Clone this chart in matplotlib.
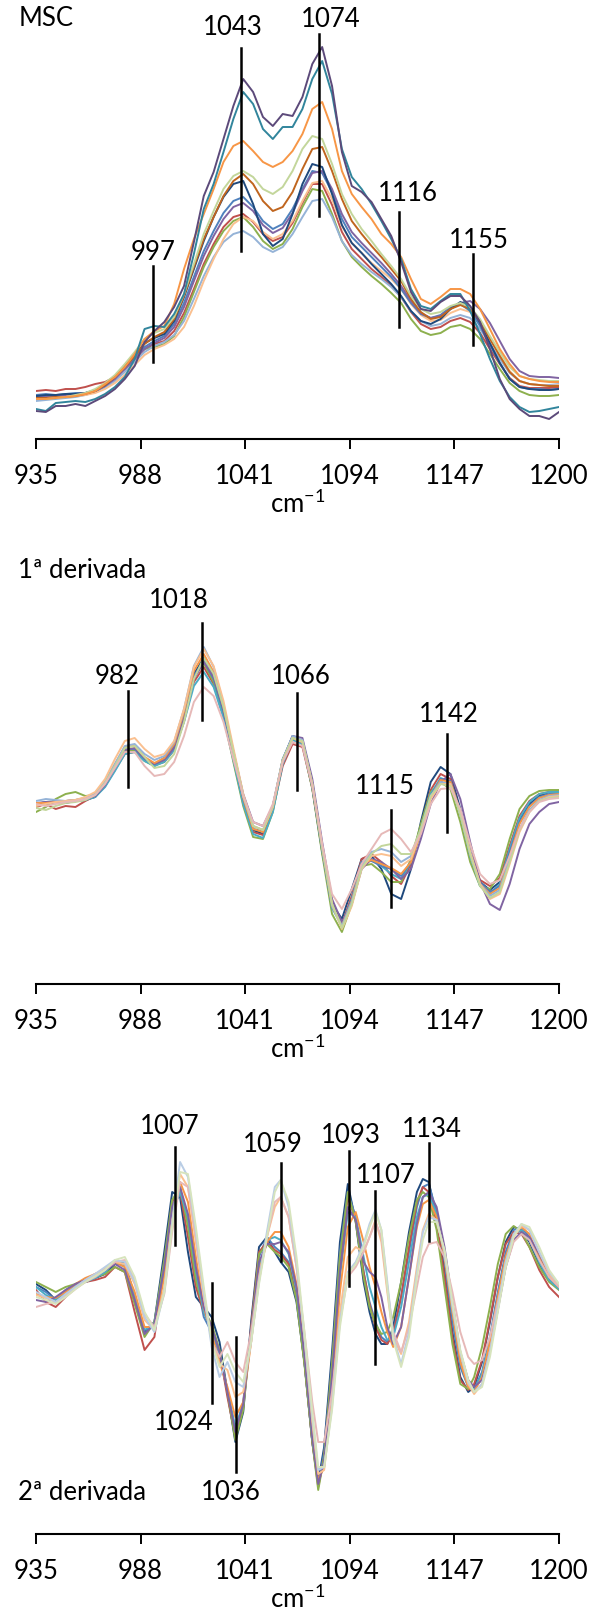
import numpy as np
import matplotlib
matplotlib.use("Agg")
import matplotlib.pyplot as plt

plt.rcParams['font.family'] = ['Lato', 'DejaVu Sans']
plt.rcParams['mathtext.fontset'] = 'custom'
plt.rcParams['mathtext.rm'] = 'Lato'
plt.rcParams['mathtext.default'] = 'regular'

# ---- data (arbitrary units) ----
# MSC spectra, 935-1200 cm-1 every 5 cm-1
wn_5 = np.arange(935, 1201, 5)

msc_dark_purple = [28, 27, 33, 33, 35, 33, 38, 43, 50, 60, 73, 97, 108, 117, 132, 153, 197, 243, 267, 300,
                   333, 360, 347, 322, 313, 325, 323, 342, 375, 392, 353, 287, 253, 247, 237, 220, 203, 177, 147, 130,
                   128, 137, 143, 143, 133, 117, 90, 60, 40, 30, 23, 23, 20, 27]
msc_teal = [30, 28, 36, 37, 38, 37, 40, 45, 52, 62, 80, 110, 113, 112, 125, 145, 185, 230, 255, 287,
            320, 347, 335, 310, 300, 312, 312, 330, 360, 378, 345, 290, 262, 250, 235, 218, 200, 180, 150, 133,
            130, 138, 145, 145, 128, 105, 80, 58, 42, 32, 27, 28, 30, 32]
msc_orange = [40, 40, 41, 42, 43, 45, 48, 55, 62, 72, 85, 100, 108, 113, 135, 170, 200, 225, 250, 277,
              293, 298, 288, 277, 272, 277, 288, 305, 330, 337, 310, 268, 245, 232, 220, 205, 195, 182, 160, 140,
              135, 142, 150, 150, 145, 130, 110, 90, 75, 63, 60, 58, 57, 57]
msc_brown = [41, 41, 42, 42, 43, 45, 48, 54, 62, 72, 83, 95, 102, 107, 120, 143, 172, 200, 222, 243,
             258, 265, 255, 238, 228, 232, 247, 270, 290, 292, 268, 240, 218, 205, 193, 182, 170, 158, 140, 127,
             120, 122, 130, 134, 130, 118, 100, 83, 67, 58, 55, 54, 53, 53]
msc_blue = [44, 45, 44, 45, 46, 46, 48, 53, 61, 72, 82, 92, 98, 103, 115, 136, 162, 188, 208, 226,
            238, 242, 232, 218, 210, 215, 230, 250, 268, 266, 247, 220, 202, 192, 182, 172, 162, 150, 136, 125,
            121, 124, 132, 135, 128, 113, 94, 76, 60, 52, 50, 50, 49, 50]
msc_green = [40, 41, 42, 42, 43, 45, 48, 53, 62, 73, 83, 90, 92, 95, 103, 122, 147, 172, 192, 208,
             218, 222, 212, 198, 190, 195, 210, 232, 250, 248, 225, 198, 182, 172, 163, 155, 146, 136, 120, 108,
             104, 106, 112, 114, 110, 100, 85, 70, 56, 48, 44, 43, 43, 44]
msc_light_blue = [38, 39, 40, 41, 42, 44, 47, 51, 58, 67, 77, 87, 93, 97, 104, 118, 140, 163, 182, 197,
                  205, 208, 202, 192, 187, 192, 205, 222, 238, 240, 222, 198, 184, 175, 167, 160, 152, 142, 128, 118,
                  113, 115, 121, 124, 121, 110, 95, 80, 66, 58, 55, 54, 54, 55]
msc_light_green = [40, 40, 41, 42, 44, 46, 50, 56, 64, 75, 87, 100, 106, 110, 122, 145, 175, 205, 228, 250,
                   263, 268, 262, 250, 245, 252, 268, 290, 303, 300, 275, 245, 225, 210, 198, 185, 173, 160, 143, 130,
                   125, 127, 133, 136, 132, 120, 103, 87, 72, 63, 60, 59, 58, 58]
msc_red = [48, 49, 48, 50, 50, 52, 55, 57, 62, 70, 80, 90, 95, 98, 108, 126, 150, 175, 195, 212,
           222, 225, 217, 205, 198, 202, 216, 236, 255, 255, 234, 207, 190, 180, 170, 162, 153, 142, 127, 115,
           110, 112, 118, 121, 117, 106, 90, 75, 61, 53, 51, 51, 51, 52]
msc_peach = [40, 41, 42, 42, 43, 44, 46, 50, 56, 64, 74, 84, 90, 94, 100, 112, 133, 158, 180, 200,
             215, 222, 218, 207, 200, 205, 218, 238, 256, 258, 240, 213, 196, 186, 176, 168, 160, 150, 135, 124,
             118, 119, 126, 130, 127, 117, 101, 84, 68, 58, 55, 54, 53, 54]
msc_violet = [42, 42, 43, 44, 45, 46, 48, 53, 60, 70, 80, 90, 96, 101, 112, 132, 158, 183, 203, 220,
              232, 236, 228, 214, 206, 211, 226, 248, 266, 268, 250, 225, 207, 196, 186, 176, 165, 153, 138, 126,
              121, 123, 130, 136, 138, 130, 116, 98, 80, 68, 63, 62, 62, 61]
msc_dark_blue = [43, 44, 44, 45, 45, 46, 49, 54, 62, 72, 84, 96, 101, 105, 118, 142, 170, 198, 222, 242,
                 255, 258, 235, 205, 193, 200, 225, 255, 275, 272, 245, 214, 196, 186, 175, 165, 155, 143, 128, 118,
                 115, 120, 130, 137, 132, 116, 96, 76, 60, 52, 50, 49, 49, 50]

# 1st derivative, same wavenumbers
d1_dark_blue = [-2, 0, 2, 1, 3, 4, 7, 18, 35, 52, 53, 44, 40, 46, 60, 90, 130, 146, 128, 94,
                50, 6, -26, -30, -5, 44, 68, 62, 16, -48, -100, -115, -85, -55, -52, -65, -90, -95, -65, -18,
                22, 37, 30, -5, -48, -78, -86, -78, -45, -15, 0, 8, 12, 13]
d1_red = [-3, 0, -5, -2, -3, 3, 8, 18, 34, 50, 52, 44, 39, 42, 54, 83, 122, 137, 120, 88,
          45, 2, -28, -31, -6, 38, 60, 57, 16, -46, -102, -120, -92, -55, -50, -58, -72, -80, -60, -22,
          14, 30, 25, -8, -50, -76, -82, -74, -42, -12, 3, 10, 12, 12]
d1_green = [-8, -3, 5, 10, 12, 8, 9, 20, 37, 53, 53, 43, 38, 43, 57, 88, 127, 141, 122, 88,
            42, -2, -33, -35, -8, 42, 65, 60, 15, -50, -110, -128, -100, -62, -60, -68, -78, -78, -55, -20,
            12, 22, 15, -18, -58, -82, -85, -70, -35, -5, 8, 13, 14, 14]
d1_teal = [0, 2, 2, 3, 3, 4, 7, 17, 33, 50, 52, 43, 38, 42, 54, 82, 118, 132, 117, 86,
           44, 0, -30, -34, -8, 40, 64, 60, 17, -46, -104, -122, -95, -58, -55, -62, -70, -75, -58, -25,
           10, 26, 22, -10, -52, -82, -90, -80, -45, -14, 2, 10, 12, 12]
d1_blue = [0, 2, 3, 2, 3, 5, 8, 20, 38, 55, 55, 45, 40, 45, 58, 88, 128, 143, 125, 92,
           48, 5, -25, -27, -2, 45, 67, 62, 18, -45, -102, -120, -95, -58, -57, -62, -65, -72, -58, -28,
           8, 25, 23, -8, -48, -78, -88, -82, -48, -18, -2, 7, 10, 10]
d1_violet = [1, 2, 2, 3, 4, 5, 8, 19, 36, 54, 56, 46, 40, 44, 56, 85, 125, 142, 127, 95,
             53, 10, -18, -22, -2, 42, 68, 66, 25, -38, -95, -118, -100, -65, -55, -58, -65, -75, -65, -35,
             0, 22, 30, 5, -38, -78, -100, -106, -80, -45, -20, -8, 0, 2]
d1_orange = [1, 1, 2, 3, 4, 6, 10, 22, 40, 57, 58, 47, 41, 46, 60, 92, 133, 150, 132, 97,
             52, 6, -25, -28, -3, 44, 66, 62, 19, -44, -102, -122, -97, -60, -56, -60, -64, -70, -58, -28,
             7, 24, 22, -9, -50, -80, -90, -84, -52, -20, -3, 6, 9, 10]
d1_light_blue = [3, 5, 4, 3, 4, 6, 10, 22, 40, 58, 60, 50, 44, 48, 62, 95, 138, 157, 137, 100,
                 53, 8, -22, -26, -2, 44, 68, 64, 20, -44, -102, -122, -98, -62, -48, -45, -48, -58, -52, -25,
                 8, 22, 20, -10, -50, -80, -92, -86, -55, -25, -6, 4, 8, 9]
d1_peach = [-2, 0, 2, 3, 4, 7, 12, 25, 45, 63, 66, 55, 47, 50, 63, 95, 137, 155, 138, 103,
            56, 10, -22, -26, -3, 43, 66, 62, 20, -42, -100, -125, -102, -65, -52, -50, -52, -62, -55, -28,
            5, 20, 20, -8, -48, -80, -95, -90, -60, -28, -8, 3, 7, 8]
d1_light_green = [-4, -6, -2, 1, 2, 4, 9, 21, 38, 56, 58, 47, 36, 38, 50, 82, 125, 146, 130, 97,
                  52, 8, -22, -26, -2, 44, 66, 63, 20, -43, -100, -124, -100, -64, -50, -42, -40, -50, -50, -25,
                  8, 20, 18, -10, -50, -82, -94, -88, -58, -26, -8, 3, 6, 7]
d1_pink = [0, -2, 0, 2, 3, 5, 9, 20, 36, 52, 52, 38, 28, 30, 42, 68, 102, 117, 108, 82,
           45, 8, -18, -22, 0, 42, 62, 58, 18, -40, -90, -105, -85, -60, -45, -30, -25, -35, -48, -30,
           0, 15, 16, -5, -40, -70, -80, -76, -52, -25, -8, 2, 5, 6]

# 2nd derivative, read at these wavenumbers
wn_d2 = [935, 940, 945, 950, 955, 960, 965, 970, 975, 980, 985, 990, 995, 1000,
         1004, 1008, 1012, 1016, 1020, 1024, 1028, 1032, 1036,
         1040, 1044, 1048, 1052, 1056,
         1059, 1063, 1067, 1071, 1075, 1078, 1081, 1085, 1089, 1093,
         1097, 1101, 1104, 1107, 1110, 1113, 1116, 1120, 1124, 1128,
         1131, 1134, 1138, 1142, 1146, 1150, 1154, 1157, 1161, 1165,
         1169, 1173, 1177, 1181, 1185, 1190, 1195, 1200]

d2_dark_blue = [8, 2, -8, 0, 8, 10, 14, 18, 28, 30, -5, -40, -30, 40,
                100, 95, 40, -5, -15, -25, -50, -100, -150,
                -120, -30, 45, 55, 40,
                30, 20, -10, -70, -150, -190, -155, -60, 50, 108,
                70, 10, -20, -42, -52, -52, -35, 10, 60, 100,
                113, 110, 75, 20, -40, -85, -100, -95, -70, -30,
                15, 50, 65, 62, 50, 28, 12, 6]
d2_blue = [5, 0, -8, 2, 8, 12, 15, 20, 30, 25, -10, -42, -30, 30,
           85, 98, 70, 15, -25, -40, -62, -100, -140,
           -110, -35, 35, 55, 45,
           40, 30, -5, -70, -150, -192, -160, -70, 40, 100,
           75, 20, -10, -30, -45, -50, -40, -5, 40, 85,
           105, 108, 80, 30, -30, -75, -95, -97, -80, -45,
           0, 40, 62, 65, 55, 30, 12, 5]
d2_red = [2, -10, -15, -5, 5, 10, 12, 15, 25, 20, -20, -58, -45, 25,
          90, 100, 55, 5, -20, -35, -60, -105, -145,
          -115, -35, 40, 50, 42,
          38, 28, -5, -70, -150, -195, -165, -75, 30, 95,
          72, 20, -12, -35, -48, -52, -42, -5, 45, 90,
          105, 100, 70, 15, -45, -88, -98, -92, -68, -28,
          15, 48, 60, 58, 45, 22, 5, -5]
d2_green = [10, 5, 0, 5, 8, 12, 15, 18, 25, 20, -12, -45, -30, 32,
            92, 105, 65, 12, -18, -32, -58, -100, -148,
            -118, -40, 38, 48, 40,
            35, 25, -8, -72, -150, -198, -165, -72, 35, 100,
            70, 15, -15, -32, -42, -40, -25, 10, 55, 92,
            100, 95, 62, 5, -52, -92, -97, -85, -55, -15,
            28, 58, 66, 60, 45, 25, 10, 2]
d2_teal = [5, -3, -8, 0, 6, 10, 14, 20, 30, 28, -5, -38, -32, 22,
           80, 100, 75, 22, -20, -38, -62, -98, -135,
           -112, -45, 25, 52, 55,
           52, 38, 2, -62, -145, -190, -170, -88, 15, 80,
           75, 35, 5, -15, -35, -48, -45, -15, 30, 75,
           95, 98, 78, 35, -20, -68, -95, -98, -82, -48,
           -5, 35, 58, 62, 52, 30, 12, 3]
d2_orange = [-2, -5, -6, 0, 8, 14, 18, 22, 30, 25, 0, -35, -35, 15,
             75, 110, 90, 35, -15, -42, -70, -95, -125,
             -110, -50, 20, 50, 60,
             60, 45, 8, -58, -140, -188, -175, -98, 0, 65,
             80, 50, 25, 5, -20, -40, -55, -35, 15, 65,
             88, 92, 75, 35, -20, -70, -95, -100, -85, -50,
             -5, 35, 58, 65, 58, 35, 15, 5]
d2_purple = [-8, -10, -5, 2, 8, 12, 18, 22, 28, 22, -8, -42, -32, 25,
             85, 105, 78, 25, -15, -35, -60, -100, -140,
             -112, -40, 30, 48, 48,
             50, 40, 5, -62, -145, -192, -170, -85, 20, 85,
             72, 30, 20, 15, -5, -35, -52, -35, 15, 68,
             95, 100, 85, 45, -10, -60, -88, -95, -88, -60,
             -18, 25, 52, 60, 55, 38, 18, 6]
d2_peach = [-3, -6, -10, -3, 5, 12, 18, 24, 30, 28, 8, -28, -38, 5,
            70, 118, 105, 50, -5, -48, -72, -78, -105,
            -100, -50, 12, 55, 85,
            95, 75, 25, -45, -130, -182, -178, -110, -20, 35,
            45, 40, 55, 72, 50, 0, -45, -62, -30, 25,
            62, 78, 72, 40, -12, -62, -92, -102, -92, -60,
            -15, 30, 55, 66, 62, 40, 18, 6]
d2_pink = [-15, -12, -10, -5, 3, 10, 15, 22, 30, 32, 12, -22, -35, -2,
           60, 110, 105, 55, 0, -50, -65, -50, -70,
           -80, -40, 15, 55, 90,
           95, 75, 25, -40, -110, -150, -150, -100, -30, 15,
           25, 40, 55, 70, 55, 5, -40, -60, -35, 5,
           35, 48, 50, 35, 0, -40, -65, -72, -68, -45,
           -10, 25, 50, 58, 52, 32, 15, 5]
d2_light_blue = [0, -5, -10, -2, 5, 12, 18, 25, 32, 30, 10, -25, -40, 0,
                 70, 130, 115, 60, 0, -55, -85, -70, -90,
                 -95, -50, 10, 60, 105,
                 112, 85, 30, -45, -125, -178, -175, -115, -30, 20,
                 30, 48, 68, 82, 62, 10, -45, -72, -40, 20,
                 60, 75, 72, 40, -15, -60, -90, -100, -92, -60,
                 -15, 30, 58, 68, 62, 40, 20, 8]
d2_light_green = [-5, -8, -12, -5, 3, 10, 16, 22, 32, 35, 15, -20, -38, 0,
                  65, 120, 118, 65, 5, -50, -75, -62, -80,
                  -90, -50, 8, 55, 100,
                  112, 90, 35, -40, -120, -175, -175, -118, -35, 18,
                  28, 45, 65, 80, 62, 5, -48, -75, -45, 15,
                  52, 70, 70, 42, -10, -58, -88, -100, -95, -65,
                  -20, 25, 55, 68, 65, 45, 22, 8]

msc_series = [(msc_red, '#C0504D'), (msc_green, '#8DB04E'), (msc_light_blue, '#95B3D7'),
              (msc_peach, '#FAC090'), (msc_blue, '#4F81BD'), (msc_violet, '#8064A2'),
              (msc_dark_blue, '#1F497D'), (msc_brown, '#C0651E'), (msc_light_green, '#C3D69B'),
              (msc_orange, '#F79646'), (msc_teal, '#31859C'), (msc_dark_purple, '#5C4A7A')]
d1_series = [(d1_dark_blue, '#1F497D'), (d1_red, '#C0504D'), (d1_green, '#8DB04E'),
             (d1_teal, '#4BACC6'), (d1_blue, '#4F81BD'), (d1_violet, '#8064A2'),
             (d1_orange, '#F79646'), (d1_light_blue, '#95B3D7'), (d1_peach, '#FAC090'),
             (d1_light_green, '#C3D69B'), (d1_pink, '#E6B9B8')]
d2_series = [(d2_dark_blue, '#1F497D'), (d2_blue, '#4F81BD'), (d2_red, '#C0504D'),
             (d2_green, '#8DB04E'), (d2_teal, '#4BACC6'), (d2_orange, '#F79646'),
             (d2_purple, '#8064A2'), (d2_peach, '#FAC090'), (d2_pink, '#E6B9B8'),
             (d2_light_blue, '#B9CDE5'), (d2_light_green, '#D7E4BD')]

# peak marks: label, line position, line top/bottom, label position
msc_marks = [('997', 994.4, 173, 77, 994.3, 188), ('1043', 1038.9, 391, 188, 1034.8, 413),
             ('1074', 1078.4, 405, 223, 1084.4, 421), ('1116', 1118.9, 227, 112, 1123.6, 247),
             ('1155', 1156.2, 185, 94, 1159.3, 200)]
d1_marks = [('982', 981.5, 113, 17, 975.9, 129), ('1018', 1018.9, 181, 84, 1007.4, 205),
            ('1066', 1067.1, 111, 14, 1069.0, 129), ('1115', 1114.8, -6, -103, 1111.8, 18),
            ('1142', 1143.2, 70, -28, 1143.9, 91)]
d2_marks = [('1007', 1005.6, 145, 47, 1002.9, 166), ('1024', 1024.0, 9, -111, 1010.0, -130),
            ('1036', 1036.2, -45, -180, 1033.8, -200), ('1059', 1059.3, 129, 31, 1054.9, 148),
            ('1093', 1093.6, 141, 6, 1094.6, 157), ('1107', 1106.7, 101, -72, 1112.2, 117),
            ('1134', 1134.1, 149, 51, 1135.5, 163)]

xticks = [935, 988, 1041, 1094, 1147, 1200]

W, H = 593, 1615
FS = 18.5
fig = plt.figure(figsize=(W / 100, H / 100), dpi=100)


def panel(top, bottom, ylim):
    ax = fig.add_axes([36 / W, 1 - bottom / H, 523 / W, (bottom - top) / H])
    ax.set_xlim(935, 1200)
    ax.set_ylim(*ylim)
    for s in ['left', 'right', 'top']:
        ax.spines[s].set_visible(False)
    ax.spines['bottom'].set_linewidth(1.5)
    ax.set_yticks([])
    ax.set_xticks(xticks)
    ax.tick_params(axis='x', direction='out', length=7, width=1.4, pad=10, labelsize=FS)
    ax.set_xlabel('cm$^{-1}$', fontsize=FS, labelpad=1)
    ax.patch.set_alpha(0)
    return ax


def draw(ax, x, series, marks):
    for y, c in series:
        ax.plot(x, y, color=c, lw=1.4, solid_joinstyle='round')
    for lab, lx, y0, y1, tx, ty in marks:
        ax.plot([lx, lx], [y0, y1], color='black', lw=1.8)
        ax.text(tx, ty, lab, ha='center', va='center', fontsize=FS)


ax1 = panel(15, 440, (0, 425))
draw(ax1, wn_5, msc_series, msc_marks)

ax2 = panel(560, 985, (-180, 245))
draw(ax2, wn_5, d1_series, d1_marks)

ax3 = panel(1105, 1535, (-242, 188))
draw(ax3, wn_d2, d2_series, d2_marks)

fig.text(18.5 / W, 1 - 19 / H, 'MSC', fontsize=FS, ha='left', va='center')
fig.text(18.5 / W, 1 - 570 / H, '1ª derivada', fontsize=FS, ha='left', va='center')
fig.text(18.5 / W, 1 - 1493 / H, '2ª derivada', fontsize=FS, ha='left', va='center')

fig.savefig('out.png', dpi=100)
